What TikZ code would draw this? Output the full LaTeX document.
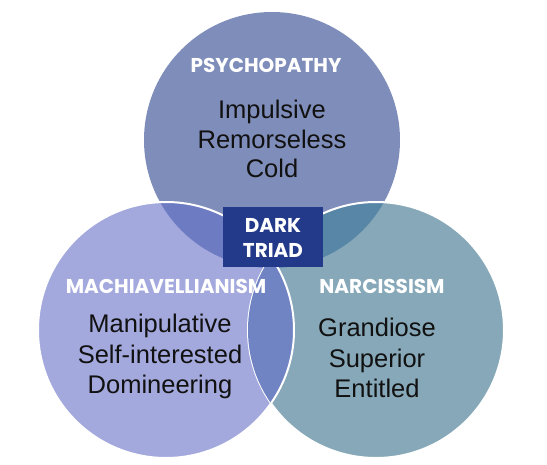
\documentclass[tikz,border=0pt]{standalone}
\usepackage{fontspec}
\setmainfont{Liberation Sans}
\newfontfamily\labelfont{Poppins Bold}
\definecolor{psyfill}{RGB}{127,141,186}
\definecolor{machfill}{RGB}{163,169,221}
\definecolor{narcfill}{RGB}{134,168,184}
\definecolor{lenspm}{RGB}{109,123,194}
\definecolor{lenspn}{RGB}{88,134,166}
\definecolor{lensmn}{RGB}{112,131,195}
\definecolor{triadblue}{RGB}{35,57,138}
\definecolor{traittext}{RGB}{17,17,17}
\begin{document}
\begin{tikzpicture}[x=1pt, y=-1pt,
    trait/.style={anchor=base, text=traittext, inner sep=0pt, font=\fontsize{25.5}{30}\selectfont},
    heading/.style={anchor=base, text=white, inner sep=0pt, font=\labelfont\fontsize{20}{24}\selectfont},
    rim/.style={draw=white, line width=2pt}]
    \useasboundingbox (0,0) rectangle (547,464);
    \def\rad{128}

    % Centres
    \coordinate (psy) at (272,140);
    \coordinate (mach) at (166,330);
    \coordinate (narc) at (376,330);

    % Circles
    \fill[psyfill] (psy) circle (\rad);
    \fill[narcfill] (narc) circle (\rad);
    \fill[machfill] (mach) circle (\rad);

    % Overlaps
    \begin{scope}
        \clip (psy) circle (\rad);
        \fill[lenspm] (mach) circle (\rad);
        \fill[lenspn] (narc) circle (\rad);
    \end{scope}
    \draw[rim] (narc) circle (\rad);
    \begin{scope}
        \clip (mach) circle (\rad);
        \fill[lensmn] (narc) circle (\rad);
    \end{scope}
    \draw[rim] (mach) circle (\rad);

    % Centre box
    \node[fill=triadblue, minimum width=100pt, minimum height=60pt, inner sep=0pt] (triad) at (273,237) {};
    \node[heading] (dark) at (273,232) {DARK};
    \node[heading] (triadtxt) at (273,257) {TRIAD};

    % Headings
    \node[heading] (psyhead) at (266,72) {PSYCHOPATHY};
    \node[heading] (machhead) at (166,293) {MACHIAVELLIANISM};
    \node[heading] (narchead) at (382,293) {NARCISSISM};

    % Traits
    \node[trait] (psy1) at (272,118) {Impulsive};
    \node[trait] (psy2) at (272,148) {Remorseless};
    \node[trait] (psy3) at (272,177) {Cold};
    \node[trait] (mach1) at (160,332) {Manipulative};
    \node[trait] (mach2) at (160,363) {Self-interested};
    \node[trait] (mach3) at (160,393) {Domineering};
    \node[trait] (narc1) at (377,336) {Grandiose};
    \node[trait] (narc2) at (377,367) {Superior};
    \node[trait] (narc3) at (377,397) {Entitled};
\end{tikzpicture}
\end{document}
